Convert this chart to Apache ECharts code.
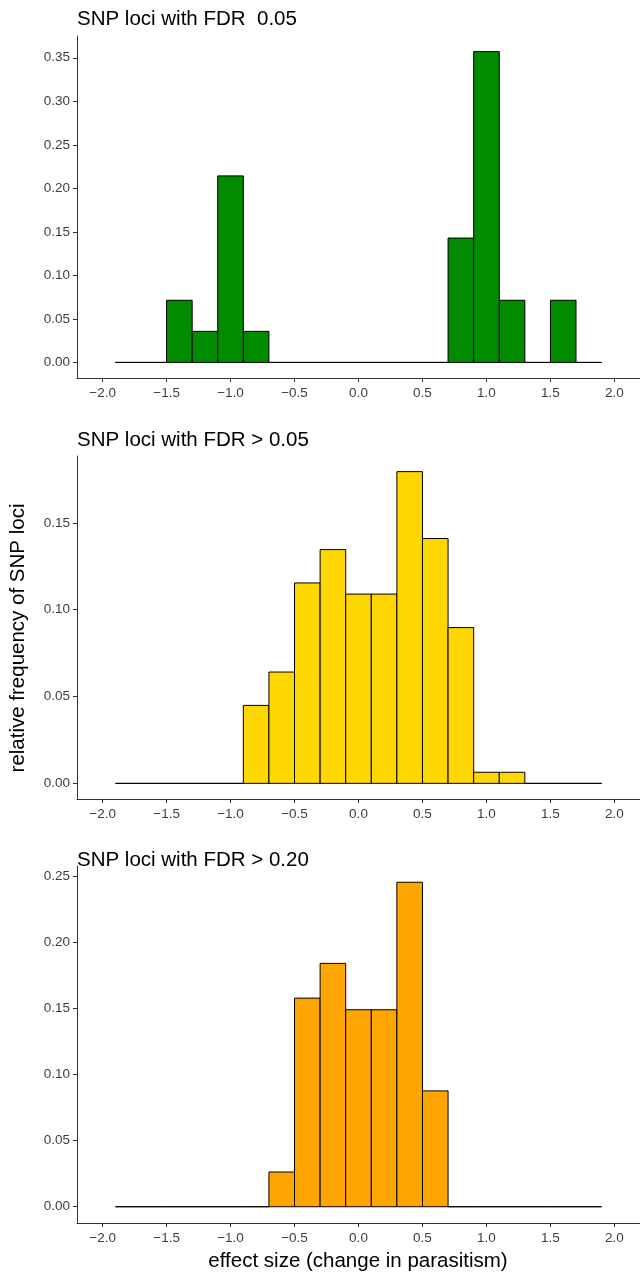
<!DOCTYPE html>
<html>
<head>
<meta charset="utf-8">
<script src="https://cdn.jsdelivr.net/npm/echarts@6/dist/echarts.min.js"></script>
<style>
html,body{margin:0;padding:0;background:#fff;}
#chart{width:640px;height:1274px;}
</style>
</head>
<body>
<div id="chart"></div>
<script>
// ---- data ----
const binCenters = [-1.8,-1.6,-1.4,-1.2,-1.0,-0.8,-0.6,-0.4,-0.2,0.0,0.2,0.4,0.6,0.8,1.0,1.2,1.4,1.6,1.8];
const BIN_WIDTH = 0.2;
const freqFdrLe005 = [0,0,0.0714,0.0357,0.2143,0.0357,0,0,0,0,0,0,0,0.1429,0.3571,0.0714,0,0.0714,0];
const freqFdrGt005 = [0,0,0,0,0,0.0449,0.0641,0.1154,0.1346,0.1090,0.1090,0.1795,0.1410,0.0897,0.0064,0.0064,0,0,0];
const freqFdrGt020 = [0,0,0,0,0,0,0.0263,0.1579,0.1842,0.1491,0.1491,0.2456,0.0877,0,0,0,0,0,0];
const xTicks = [-2.0,-1.5,-1.0,-0.5,0.0,0.5,1.0,1.5,2.0];
const yTicks1 = [0,0.05,0.10,0.15,0.20,0.25,0.30,0.35];
const yTicks2 = [0,0.05,0.10,0.15];
const yTicks3 = [0,0.05,0.10,0.15,0.20,0.25];
const titles = ['SNP loci with FDR  0.05','SNP loci with FDR > 0.05','SNP loci with FDR > 0.20'];
const yTitle = 'relative frequency of SNP loci';
const xTitle = 'effect size (change in parasitism)';

// ---- layout ----
const FONT = 'Liberation Sans, Arial, Helvetica, sans-serif';
const TITLE_SIZE = 20.5;
const TICK_SIZE = 13.5;
const panels = [
  {top:36, height:342, ymin:-0.0179, ymax:0.375, ticks:yTicks1, data:freqFdrLe005, color:'#008B00', titleY:9},
  {top:456, height:343, ymin:-0.009, ymax:0.1885, ticks:yTicks2, data:freqFdrGt005, color:'#FFD700', titleY:430},
  {top:866, height:357, ymin:-0.0123, ymax:0.2579, ticks:yTicks3, data:freqFdrGt020, color:'#FFA500', titleY:850}
];
const minus = s => s.replace('-', '\u2212');

const option = {
  animation:false,
  backgroundColor:'#fff',
  title: panels.map((p,i)=>({
    text: titles[i], left:77, top:p.titleY, padding:0,
    textStyle:{fontFamily:FONT, fontSize:TITLE_SIZE, fontWeight:'normal', color:'#000'}
  })),
  grid: panels.map(p=>({left:77, right:0, top:p.top, height:p.height, containLabel:false, outerBoundsMode:'none'})),
  xAxis: panels.map((p,i)=>({
    type:'value', gridIndex:i, min:-2.2, max:2.2,
    splitLine:{show:false},
    axisLine:{show:true, onZero:false, lineStyle:{color:'#333', width:1}},
    axisTick:{show:true, length:4, customValues:xTicks, lineStyle:{color:'#333'}},
    axisLabel:{customValues:xTicks, formatter:v=>minus(v.toFixed(1)), fontFamily:FONT, fontSize:TICK_SIZE, color:'#3d3d3d', margin:8}
  })),
  yAxis: panels.map((p,i)=>({
    type:'value', gridIndex:i, min:p.ymin, max:p.ymax,
    splitLine:{show:false},
    axisLine:{show:true, onZero:false, lineStyle:{color:'#333', width:1}},
    axisTick:{show:true, length:4, customValues:p.ticks, lineStyle:{color:'#333'}},
    axisLabel:{customValues:p.ticks, formatter:v=>v.toFixed(2), fontFamily:FONT, fontSize:TICK_SIZE, color:'#3d3d3d', margin:7}
  })),
  graphic:[{
    type:'text', x:18, y:638, rotation:Math.PI/2,
    style:{text:yTitle, font:TITLE_SIZE+'px '+FONT, fill:'#000', textAlign:'center', textVerticalAlign:'middle'}
  },{
    type:'text', x:358, y:1261,
    style:{text:xTitle, font:TITLE_SIZE+'px '+FONT, fill:'#000', textAlign:'center', textVerticalAlign:'middle'}
  }],
  series: panels.map((p,i)=>({
    type:'custom', xAxisIndex:i, yAxisIndex:i,
    data: binCenters.map((c,k)=>[c, p.data[k]]),
    encode:{x:0, y:1},
    renderItem:(params, api)=>{
      const c = api.value(0), h = api.value(1);
      const a = api.coord([c - BIN_WIDTH/2, h]);
      const b = api.coord([c + BIN_WIDTH/2, 0]);
      return {type:'rect', shape:{x:a[0], y:a[1], width:b[0]-a[0], height:b[1]-a[1]},
        style:{fill:p.color, stroke:'#000', lineWidth:1}};
    }
  }))
};
const chart = echarts.init(document.getElementById('chart'), null, {renderer:'canvas'});
chart.setOption(option);
</script>
</body>
</html>
